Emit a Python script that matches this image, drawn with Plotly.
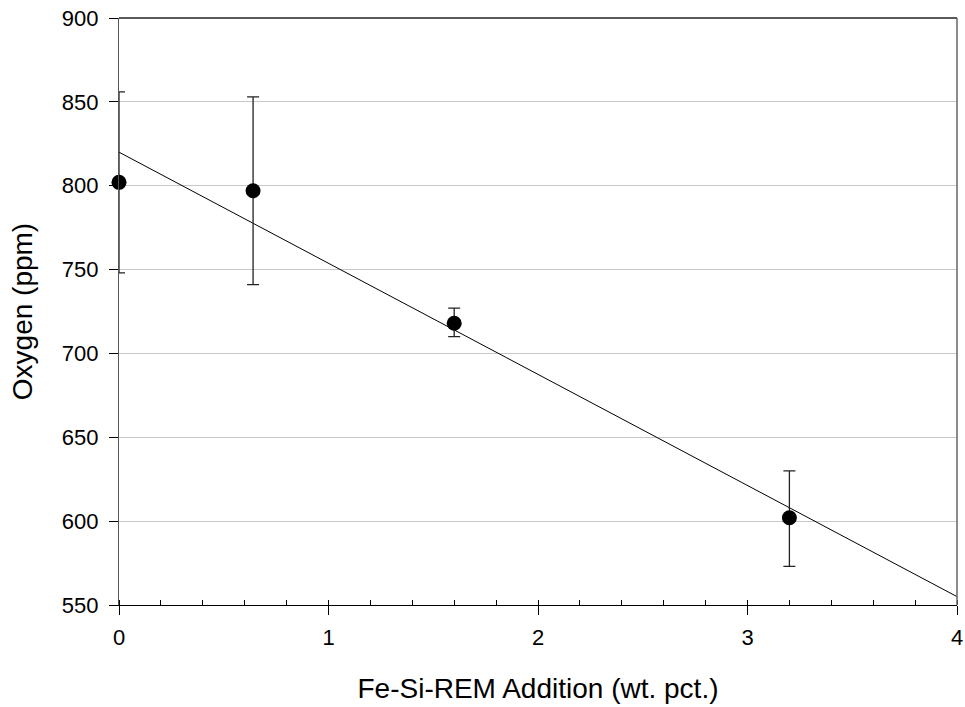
import plotly.graph_objects as go

x_vals = [0.0, 0.64, 1.6, 3.2]
oxygen = [802, 797, 718, 602]
err_plus = [54, 56, 9, 28]
err_minus = [54, 56, 8, 29]
trend_x = [0.0, 4.0]
trend_y = [820, 555]
x_ticks = [0, 1, 2, 3, 4]
y_ticks = [550, 600, 650, 700, 750, 800, 850, 900]

fig = go.Figure()
fig.add_trace(go.Scatter(x=trend_x, y=trend_y, mode="lines",
                         line=dict(color="black", width=1), showlegend=False,
                         cliponaxis=False))
fig.add_trace(go.Scatter(
    x=x_vals, y=oxygen, mode="markers",
    marker=dict(color="black", size=15),
    error_y=dict(type="data", symmetric=False, array=err_plus, arrayminus=err_minus,
                 color="#222222", thickness=1.3, width=6),
    showlegend=False, cliponaxis=False))

fig.update_layout(
    width=965, height=707,
    margin=dict(l=119, r=8, t=18, b=102),
    plot_bgcolor="white", paper_bgcolor="white",
    font=dict(family="Liberation Sans, Arial, sans-serif", size=22, color="black"),
    xaxis=dict(range=[0, 4], tickvals=x_ticks, showgrid=False, zeroline=False,
               automargin=False,
               showline=True, linecolor="black", linewidth=1.3,
               ticks="outside", ticklen=9, tickcolor="black",
               tickfont=dict(size=22), ticklabelstandoff=3,
               minor=dict(dtick=0.2, ticks="inside", ticklen=5, tickcolor="black", showgrid=False),
               title=dict(text="Fe-Si-REM Addition (wt. pct.)", font=dict(size=28), standoff=29)),
    yaxis=dict(range=[550, 900], tickvals=y_ticks, showgrid=True, gridcolor="#c8c8c8",
               gridwidth=1, zeroline=False, automargin=False,
               showline=True, linecolor="#555555", linewidth=1.3,
               ticks="outside", ticklen=9, tickcolor="black",
               tickfont=dict(size=22), ticklabelstandoff=6,
               title=dict(text="Oxygen (ppm)", font=dict(size=28), standoff=20)),
)
fig.add_shape(type="line", xref="paper", yref="paper", x0=0, x1=1, y0=1, y1=1,
              line=dict(color="#222222", width=1.3))
fig.add_shape(type="line", xref="paper", yref="paper", x0=1, x1=1, y0=0, y1=1,
              line=dict(color="#666666", width=1.5))

fig.write_html("out.html")
